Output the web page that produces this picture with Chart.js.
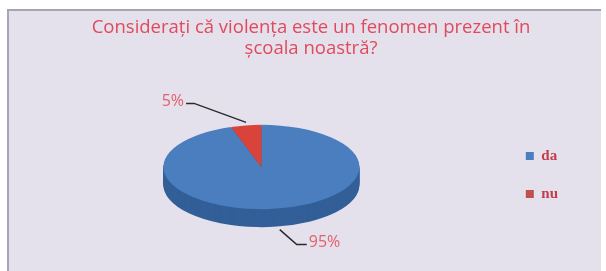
<!DOCTYPE html>
<html>
<head>
<meta charset="utf-8">
<script src="https://cdn.jsdelivr.net/npm/chart.js@4"></script>
<style>
  html, body { margin: 0; padding: 0; background: #ffffff; }
  #wrap { width: 606px; height: 271px; }
</style>
</head>
<body>
<div id="wrap"><canvas id="pieChart" width="606" height="271"></canvas></div>
<script>
const categories = ["da", "nu"];
const values = [95, 5];
const percentLabels = ["95%", "5%"];
const titleLines = ["Considerați că violența este un fenomen prezent în", "școala noastră?"];

const topColors = ["#4a7ebf", "#d9433a"];
const sideColors = ["#335f98", "#a8302a"];
const legendColors = ["#4a7ebf", "#c0504d"];

const squash = 0.43;
const depth = 18;

// panel + title
const panelPlugin = {
  id: "panel",
  beforeDraw(chart) {
    const ctx = chart.ctx;
    ctx.save();
    ctx.fillStyle = "#ffffff";
    ctx.fillRect(0, 0, chart.width, chart.height);
    ctx.fillStyle = "#e4e0ec";
    ctx.fillRect(7, 9, 594, 262);
    ctx.strokeStyle = "#a9a4b4";
    ctx.lineWidth = 2;
    ctx.beginPath();
    ctx.moveTo(8, 272);
    ctx.lineTo(8, 10);
    ctx.lineTo(601, 10);
    ctx.stroke();
    ctx.fillStyle = "#e04a5c";
    ctx.font = "18.5px 'Open Sans'";
    ctx.textAlign = "center";
    ctx.textBaseline = "alphabetic";
    ctx.fillText(titleLines[0], 311, 33);
    ctx.fillText(titleLines[1], 311, 54);
    ctx.restore();
  }
};

// fake 3d: squash vertically and draw side walls
const pie3d = {
  id: "pie3d",
  beforeDatasetsDraw(chart) {
    const ctx = chart.ctx;
    const arcs = chart.getDatasetMeta(0).data;
    const cx = arcs[0].x, cy = arcs[0].y;
    ctx.save();
    ctx.translate(cx, cy);
    ctx.scale(1, squash);
    ctx.translate(-cx, -cy);
    for (let d = depth; d >= 1; d--) {
      ctx.save();
      ctx.translate(0, d / squash);
      arcs.forEach((arc, i) => {
        const saved = arc.options;
        arc.options = Object.assign({}, saved, { backgroundColor: sideColors[i], borderColor: sideColors[i] });
        arc.draw(ctx);
        arc.options = saved;
      });
      ctx.restore();
    }
  },
  afterDatasetsDraw(chart) {
    chart.ctx.restore();
    const ctx = chart.ctx;
    const arcs = chart.getDatasetMeta(0).data;
    ctx.save();
    ctx.strokeStyle = "#2a2a2a";
    ctx.lineWidth = 1.5;
    ctx.fillStyle = "#e2606c";
    ctx.font = "16px 'Open Sans'";
    ctx.textBaseline = "middle";
    arcs.forEach((arc, i) => {
      const mid = (arc.startAngle + arc.endAngle) / 2;
      const r = arc.outerRadius;
      let ax = arc.x + Math.cos(mid) * r;
      let ay = arc.y + Math.sin(mid) * r * squash;
      ctx.beginPath();
      if (Math.sin(mid) < 0) {
        ctx.moveTo(ax, ay - 3);
        ctx.lineTo(ax - 52, ay - 22);
        ctx.lineTo(ax - 60, ay - 22);
        ctx.stroke();
        ctx.textAlign = "right";
        ctx.fillText(percentLabels[i], ax - 62, ay - 24);
      } else {
        ay += depth;
        ctx.moveTo(ax + 3, ay + 3);
        ctx.lineTo(ax + 20, ay + 18);
        ctx.lineTo(ax + 30, ay + 18);
        ctx.stroke();
        ctx.textAlign = "left";
        ctx.fillText(percentLabels[i], ax + 32, ay + 16);
      }
    });
    ctx.restore();
  }
};

new Chart(document.getElementById("pieChart"), {
  type: "pie",
  data: {
    labels: categories,
    datasets: [{
      data: values,
      backgroundColor: topColors,
      borderWidth: 0,
      clip: false
    }]
  },
  options: {
    responsive: false,
    animation: false,
    events: [],
    layout: { padding: { left: 20, right: 38, top: 69, bottom: 6 } },
    plugins: {
      title: { display: false },
      tooltip: { enabled: false },
      legend: {
        position: "right",
        title: { display: true, text: "", font: { size: 1 }, padding: { top: 0, bottom: 15 } },
        labels: {
          boxWidth: 8,
          boxHeight: 8,
          padding: 23,
          color: "#c23c4c",
          font: { family: "Liberation Serif", size: 15, weight: "bold" },
          generateLabels(chart) {
            return categories.map((c, i) => ({
              text: c,
              fillStyle: legendColors[i],
              strokeStyle: legendColors[i],
              fontColor: "#c23c4c",
              lineWidth: 0,
              index: i,
              hidden: false
            }));
          }
        }
      }
    }
  },
  plugins: [panelPlugin, pie3d]
});
</script>
</body>
</html>
